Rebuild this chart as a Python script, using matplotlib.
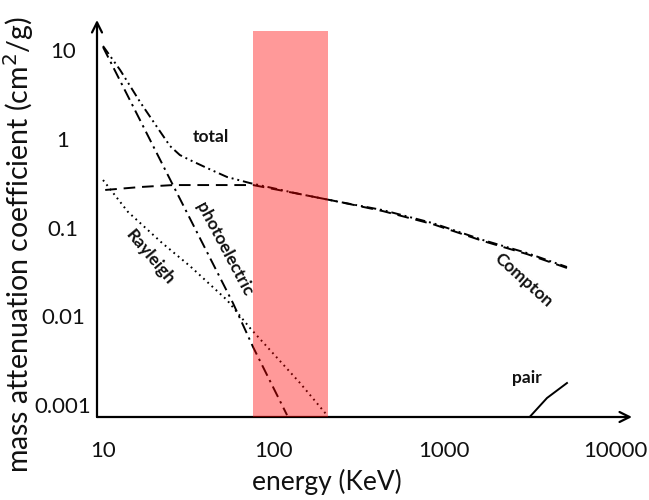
import matplotlib
matplotlib.use("Agg")
import matplotlib.pyplot as plt

plt.rcParams['font.family'] = ['Lato', 'DejaVu Sans']

# values (energy in keV, coefficient in cm^2/g)
total_e = [10, 12.6, 16.5, 20.7, 24.7, 28.2, 32.3, 40.7, 53.3, 72.6, 142.6, 244, 437, 857, 1683, 3048, 5224]
total_mu = [11.1, 5.95, 2.59, 1.36, 0.828, 0.656, 0.576, 0.468, 0.371, 0.317, 0.238, 0.194, 0.157, 0.112,
            0.0723, 0.0516, 0.0359]

compton_e = [10.3, 16.5, 25.7, 75.7, 142.6, 244, 437, 857, 1683, 3048, 5224]
compton_mu = [0.265, 0.286, 0.301, 0.301, 0.238, 0.194, 0.153, 0.109, 0.0705, 0.0502, 0.035]

photo_e = [10, 25.7, 57.7, 75.7, 119.7]
photo_mu = [10.8, 0.30, 0.0141, 0.0045, 0.00077]

rayleigh_e = [10, 14.0, 22.2, 32.3, 53.3, 72.6, 142.6, 205]
rayleigh_mu = [0.343, 0.150, 0.0669, 0.0368, 0.0152, 0.00738, 0.00177, 0.00077]

pair_e = [3171, 3990, 5224]
pair_mu = [0.00074, 0.0012, 0.00177]

# highlighted energy window
band_lo, band_hi, band_top = 75.7, 208, 16.4

xticks = [10, 100, 1000, 10000]
xtick_labels = ['10', '100', '1000', '10000']
yticks = [10, 1, 0.1, 0.01, 0.001]
ytick_labels = ['10', '1', '0.1', '0.01', '0.001']

fig = plt.figure(figsize=(6.49, 5.0), dpi=100)
ax = fig.add_axes([97/649, 83/500, 535/649, 397/500])
ax.set_xscale('log')
ax.set_yscale('log')
ymin, ymax = 0.000733, 21.8
ax.set_xlim(9.22, 12560)
ax.set_ylim(ymin, ymax)

lw = 1.4
ax.plot(total_e, total_mu, color='black', lw=lw, ls=(0, (5, 2, 1, 2, 1, 2)))
ax.plot(compton_e, compton_mu, color='black', lw=lw, ls=(0, (6, 3.5)))
ax.plot(photo_e, photo_mu, color='black', lw=lw, ls=(0, (6, 2.5, 1.2, 2.5)))
ax.plot(rayleigh_e, rayleigh_mu, color='black', lw=lw, ls=(0, (0.9, 2)))
ax.plot(pair_e, pair_mu, color='black', lw=lw)

ax.fill_between([band_lo, band_hi], ymin, band_top, color='red', alpha=0.4, lw=0, zorder=5)

for s in ax.spines.values():
    s.set_visible(False)
arrow = dict(arrowstyle='->', lw=1.6, color='black', mutation_scale=18, shrinkA=0, shrinkB=0)
ax.annotate('', xy=(1, 0), xytext=(0, 0), xycoords='axes fraction', arrowprops=arrow)
ax.annotate('', xy=(0, 1), xytext=(0, 0), xycoords='axes fraction', arrowprops=arrow)

ax.set_xticks(xticks)
ax.set_xticklabels(xtick_labels)
ax.set_yticks(yticks)
ax.set_yticklabels(ytick_labels)
ax.minorticks_off()
ax.tick_params(axis='x', length=0, pad=17.5, labelsize=16, labelcolor='#111111')
ax.tick_params(axis='y', length=0, pad=24.5, labelsize=16, labelcolor='#111111')
for t in ax.get_yticklabels():
    t.set_ha('center')

fig.text(327/649, 1 - 482/500, 'energy (KeV)', ha='center', va='center', fontsize=19, color='#111111')
fig.text(19/649, 1 - 245/500, 'mass attenuation coefficient (cm$^2$/g)', ha='center', va='center',
         rotation=90, fontsize=20.5, color='#111111')

lab = dict(fontsize=12.5, fontweight='bold', ha='center', va='center', color='#111111')
ax.text(43, 1.05, 'total', **lab)
ax.text(51.2, 0.0575, 'photoelectric', rotation=-62, **lab)
ax.text(18.8, 0.0466, 'Rayleigh', rotation=-50, **lab)
ax.text(2900, 0.0256, 'Compton', rotation=-42, **lab)
ax.text(3050, 0.0020, 'pair', **lab)

fig.savefig('out.png', dpi=100)
